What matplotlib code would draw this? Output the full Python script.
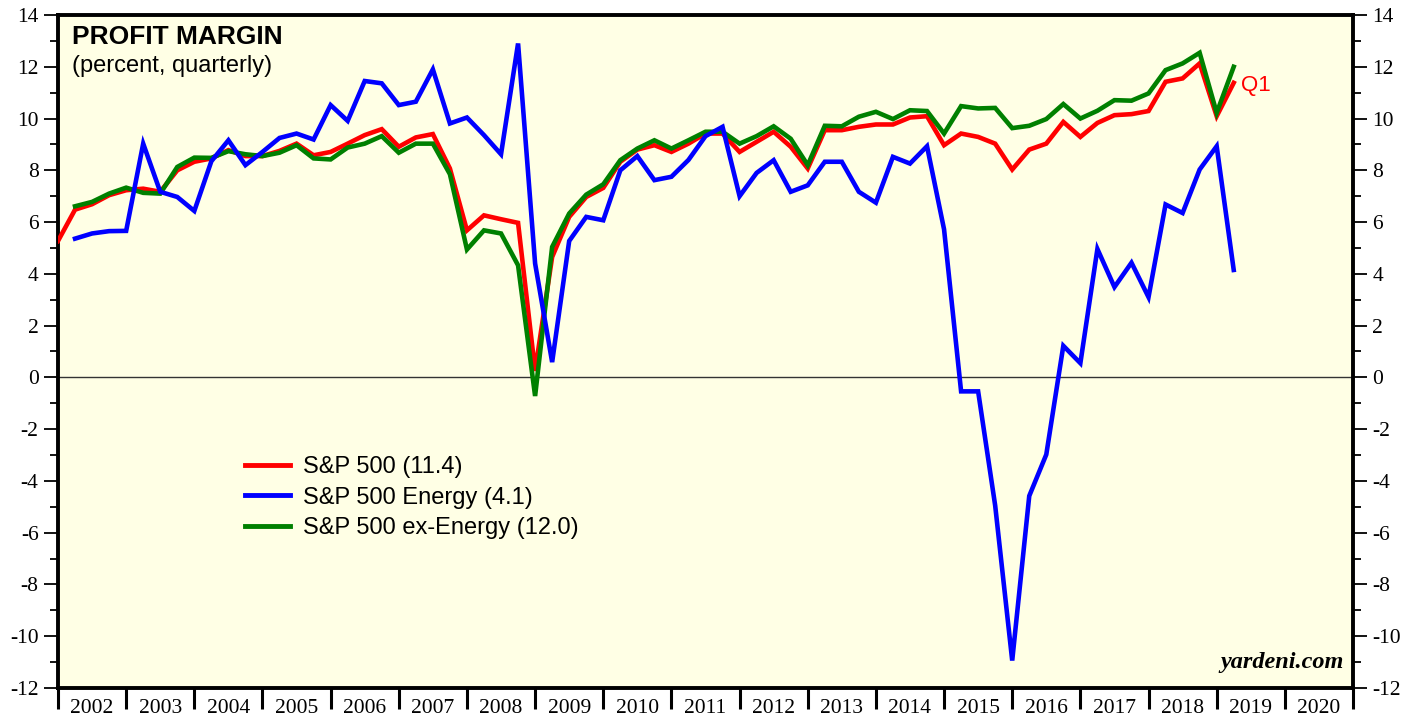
import numpy as np
import matplotlib
matplotlib.use('Agg')
import matplotlib.pyplot as plt
from matplotlib.ticker import MultipleLocator, FixedLocator, NullFormatter, FixedFormatter
from matplotlib.lines import Line2D

plt.rcParams['axes.unicode_minus'] = False

# profit margins, percent, quarterly
# S&P 500 starts at 2001 Q4, the other two at 2002 Q1
sp500 = [5.27,
         6.48, 6.69, 7.04, 7.23,
         7.29, 7.17, 8.00, 8.33,
         8.46, 8.78, 8.55, 8.55,
         8.75, 9.03, 8.58, 8.71,
         9.03, 9.36, 9.59, 8.91,
         9.27, 9.40, 8.07, 5.68,
         6.26, 6.11, 5.97, 0.25,
         4.65, 6.20, 6.97, 7.32,
         8.33, 8.80, 8.97, 8.71,
         9.03, 9.42, 9.42, 8.71,
         9.10, 9.49, 8.91, 8.07,
         9.55, 9.55, 9.68, 9.77,
         9.77, 10.04, 10.09, 8.97,
         9.42, 9.29, 9.03, 8.03,
         8.80, 9.03, 9.87, 9.29,
         9.83, 10.13, 10.17, 10.29,
         11.42, 11.55, 12.13, 10.09,
         11.38]

energy = [5.36, 5.56, 5.65, 5.66,
          9.03, 7.17, 6.97, 6.43,
          8.35, 9.16, 8.20, 8.71,
          9.25, 9.42, 9.19, 10.52,
          9.91, 11.45, 11.36, 10.52,
          10.65, 11.90, 9.81, 10.04,
          9.36, 8.62, 12.90, 4.40,
          0.59, 5.27, 6.20, 6.07,
          8.00, 8.55, 7.62, 7.75,
          8.40, 9.32, 9.68, 7.00,
          7.90, 8.39, 7.17, 7.42,
          8.33, 8.33, 7.17, 6.75,
          8.52, 8.26, 8.93, 5.72,
          -0.54, -0.54, -4.95, -10.94,
          -4.58, -2.98, 1.22, 0.55,
          4.96, 3.49, 4.43, 3.10,
          6.68, 6.35, 8.03, 8.93,
          4.15]

ex_energy = [6.61, 6.78, 7.10, 7.33,
             7.13, 7.10, 8.13, 8.49,
             8.48, 8.74, 8.62, 8.55,
             8.68, 8.97, 8.46, 8.42,
             8.88, 9.03, 9.32, 8.68,
             9.03, 9.03, 7.85, 4.94,
             5.68, 5.56, 4.33, -0.72,
             5.04, 6.33, 7.06, 7.46,
             8.39, 8.84, 9.16, 8.84,
             9.16, 9.49, 9.49, 9.03,
             9.32, 9.70, 9.22, 8.20,
             9.72, 9.70, 10.07, 10.26,
             9.98, 10.32, 10.29, 9.42,
             10.48, 10.39, 10.41, 9.63,
             9.72, 9.98, 10.56, 10.00,
             10.30, 10.71, 10.69, 10.97,
             11.87, 12.13, 12.54, 10.22,
             12.00]

labels = ['S&P 500 (11.4)', 'S&P 500 Energy (4.1)', 'S&P 500 ex-Energy (12.0)']
years = list(range(2002, 2021))

# quarters are plotted at quarter end (Q4 2001 -> 2002.0)
x_sp = 2002.0 + 0.25*np.arange(len(sp500))
x_en = 2002.25 + 0.25*np.arange(len(energy))
x_ex = 2002.25 + 0.25*np.arange(len(ex_energy))

RED = '#ff0000'
BLUE = '#0000ff'
GREEN = '#008000'
serif = 'Liberation Serif'
sans = 'Liberation Sans'

fig = plt.figure(figsize=(14.19, 7.19), dpi=100)
ax = fig.add_axes([58/1419, 1 - 688/719, 1295/1419, 673/719])
ax.set_facecolor('#ffffe5')

ax.axhline(0, color='#333333', lw=1.0, zorder=1)
ax.plot(x_sp, sp500, color=RED, lw=3.3, zorder=3, solid_joinstyle='miter')
ax.plot(x_ex, ex_energy, color=GREEN, lw=3.3, zorder=4, solid_joinstyle='miter')
ax.plot(x_en, energy, color=BLUE, lw=3.3, zorder=5, solid_joinstyle='miter')

ax.set_xlim(2002, 2021)
ax.set_ylim(-12, 14)

for s in ax.spines.values():
    s.set_linewidth(2.8)
    s.set_color('black')

# y axis, both sides
ax.yaxis.set_major_locator(MultipleLocator(2))
ax.yaxis.set_minor_locator(MultipleLocator(1))
ax.tick_params(axis='y', which='both', left=True, right=True, labelleft=True, labelright=True,
               direction='out', width=1.3, labelsize=15.5, pad=4)
ax.tick_params(axis='y', which='major', length=10)
ax.tick_params(axis='y', which='minor', length=6)

# x axis: ticks at year boundaries, labels in between
ax.xaxis.set_major_locator(FixedLocator(years + [2021]))
ax.xaxis.set_major_formatter(NullFormatter())
ax.xaxis.set_minor_locator(FixedLocator([y + 0.5 for y in years]))
ax.xaxis.set_minor_formatter(FixedFormatter([str(y) for y in years]))
ax.tick_params(axis='x', which='major', direction='out', length=15, width=2.2)
ax.tick_params(axis='x', which='minor', length=0, labelsize=15.5, pad=8)

for lab in ax.get_yticklabels() + ax.get_xticklabels(minor=True):
    lab.set_fontfamily(serif)

ax.text(0.011, 0.985, 'PROFIT MARGIN', transform=ax.transAxes, fontsize=19, fontweight='bold',
        family=sans, va='top', ha='left')
ax.text(0.011, 0.940, '(percent, quarterly)', transform=ax.transAxes, fontsize=17,
        family=sans, va='top', ha='left')

ax.text(x_sp[-1] + 0.1, sp500[-1] - 0.1, 'Q1', color=RED, fontsize=16, family=sans,
        va='center', ha='left')

ax.text(0.993, 0.022, 'yardeni.com', transform=ax.transAxes, fontsize=17.5, family=serif,
        fontweight='bold', fontstyle='italic', ha='right', va='bottom')

handles = [Line2D([], [], color=c, lw=3.5) for c in (RED, BLUE, GREEN)]
leg = ax.legend(handles, labels, loc='upper left', bbox_to_anchor=(0.1444, 0.345),
                frameon=False, prop={'family': sans, 'size': 17}, handlelength=1.9,
                handletextpad=0.55, labelspacing=0.37, borderpad=0, borderaxespad=0)

fig.savefig('out.png', dpi=100)
